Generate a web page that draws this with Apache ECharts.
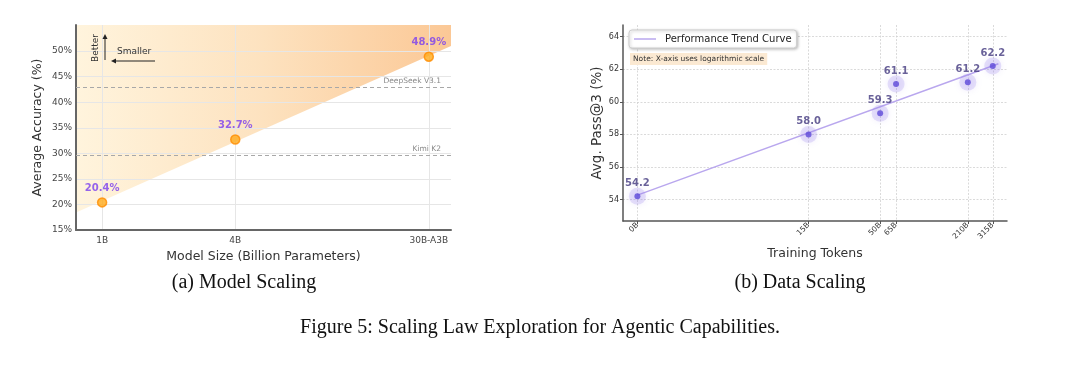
<!DOCTYPE html>
<html>
<head>
<meta charset="utf-8">
<script src="https://cdn.jsdelivr.net/npm/echarts@6/dist/echarts.min.js"></script>
<style>
html,body{margin:0;padding:0;background:#fff;}
#c{width:1080px;height:370px;}
</style>
</head>
<body>
<div id="c"></div>
<script>
// ---- Left panel: model scaling ----
var modelSizes = [1, 4, 30];               // billions (log-positioned)
var modelLabels = ['1B', '4B', '30B-A3B'];
var modelAccuracy = [20.4, 32.7, 48.9];
var accTicks = [15, 20, 25, 30, 35, 40, 45, 50];
var baselineNames = ['DeepSeek V3.1', 'Kimi K2'];
var baselineValues = [43.0, 29.7];
var frontierX = [0.762, 37.8];             // band edge
var frontierY = [18.4, 51.0];

// ---- Right panel: data scaling ----
var tokenLabels = ['0B', '15B', '50B', '65B', '210B', '315B'];
var tokens = [0, 15, 50, 65, 210, 315];    // billions
var passAt3 = [54.2, 58.0, 59.3, 61.1, 61.2, 62.2];
var passTicks = [54, 56, 58, 60, 62, 64];
var trendTokens = [0, 345];
var trendValues = [54.27, 62.34];

var FONT = 'DejaVu Sans';
var chart = echarts.init(document.getElementById('c'), null, {renderer: 'canvas'});

function tokenPos(t) { return t + 1; } // log(x+1) axis
var tokTickVals = tokens.map(tokenPos);

var option = {
  animation: false,
  backgroundColor: '#fff',
  textStyle: {fontFamily: FONT},
  grid: [
    {left: 76, top: 25, width: 375, height: 205, containLabel: false},
    {left: 623, top: 25, width: 384, height: 196, containLabel: false}
  ],
  legend: {
    data: ['Performance Trend Curve'],
    left: 629, top: 30,
    icon: 'rect', itemWidth: 22, itemHeight: 1.5, itemGap: 6,
    padding: [4, 5, 4, 5],
    backgroundColor: '#fff',
    borderColor: '#cfcfcf', borderWidth: 1, borderRadius: 3,
    shadowBlur: 3, shadowColor: 'rgba(0,0,0,0.25)', shadowOffsetX: 1, shadowOffsetY: 1,
    textStyle: {fontFamily: FONT, fontSize: 10, color: '#222', padding: [0, 0, 0, 4]}
  },
  xAxis: [
    {
      gridIndex: 0, type: 'log', logBase: 10, min: frontierX[0], max: frontierX[1],
      name: 'Model Size (Billion Parameters)', nameLocation: 'middle', nameGap: 18,
      nameTextStyle: {fontFamily: FONT, fontSize: 12.5, color: '#333'},
      axisLine: {show: true, lineStyle: {color: '#666', width: 2}},
      axisTick: {show: false, customValues: modelSizes},
      axisLabel: {customValues: modelSizes, fontSize: 9, color: '#444', margin: 6,
        formatter: function (v) { var i = modelSizes.findIndex(function (m) { return Math.abs(m - v) < 1e-6; }); return i >= 0 ? modelLabels[i] : ''; }},
      splitLine: {show: true, lineStyle: {color: '#e6e6e6', width: 1}},
      minorSplitLine: {show: false}
    },
    {
      gridIndex: 1, type: 'log', logBase: 10, min: 0.792, max: 398,
      name: 'Training Tokens', nameLocation: 'middle', nameGap: 24,
      nameTextStyle: {fontFamily: FONT, fontSize: 12.5, color: '#333'},
      axisLine: {show: true, lineStyle: {color: '#555', width: 1.5}},
      axisTick: {show: true, customValues: tokTickVals, length: 3, lineStyle: {color: '#555'}},
      axisLabel: {customValues: tokTickVals, rotate: 45, fontSize: 7.5, color: '#333', margin: 3,
        formatter: function (v) { var i = tokTickVals.findIndex(function (m) { return Math.abs(m - v) < 1e-6; }); return i >= 0 ? tokenLabels[i] : ''; }},
      splitLine: {show: true, lineStyle: {color: '#d0d0d0', width: 0.8, type: [2, 1.5]}}
    }
  ],
  yAxis: [
    {
      gridIndex: 0, type: 'value', min: 15, max: 55.1, interval: 5,
      name: 'Average Accuracy (%)', nameLocation: 'middle', nameGap: 32,
      nameTextStyle: {fontFamily: FONT, fontSize: 12.5, color: '#333'},
      axisLine: {show: true, lineStyle: {color: '#666', width: 2}},
      axisTick: {show: false, customValues: accTicks},
      axisLabel: {customValues: accTicks, fontSize: 9, color: '#444', margin: 4, formatter: function (v) { return v + '%'; }},
      splitLine: {show: true, lineStyle: {color: '#e6e6e6', width: 1}}
    },
    {
      gridIndex: 1, type: 'value', min: 52.68, max: 64.72,
      name: 'Avg. Pass@3 (%)', nameLocation: 'middle', nameGap: 16,
      nameTextStyle: {fontFamily: FONT, fontSize: 13.5, color: '#333'},
      axisLine: {show: true, lineStyle: {color: '#555', width: 1.5}},
      axisTick: {show: true, customValues: passTicks, length: 3, lineStyle: {color: '#555'}},
      axisLabel: {customValues: passTicks, fontSize: 8, color: '#333', margin: 4},
      splitLine: {show: true, lineStyle: {color: '#d0d0d0', width: 0.8, type: [2, 1.5]}}
    }
  ],
  series: [
    {
      name: 'band', type: 'line', xAxisIndex: 0, yAxisIndex: 0, z: -1,
      symbol: 'none', silent: true,
      data: frontierX.map(function (x, i) { return [x, frontierY[i]]; }),
      lineStyle: {width: 0, opacity: 0},
      areaStyle: {
        origin: 'end', opacity: 1,
        color: new echarts.graphic.LinearGradient(0, 0, 1, 0, [
          {offset: 0, color: '#fff4dd'},
          {offset: 0.5, color: '#fde2bf'},
          {offset: 1, color: '#fbc896'}
        ])
      },
      markLine: {
        silent: true, symbol: 'none',
        lineStyle: {color: '#a8a8a8', type: [4, 3], width: 1.2},
        label: {position: 'insideEndTop', color: '#888', fontSize: 7.5, fontFamily: FONT, distance: [10, 2],
          formatter: function (p) { return p.name; }},
        data: baselineValues.map(function (v, i) { return {name: baselineNames[i], yAxis: v}; })
      }
    },
    {
      name: 'models', type: 'scatter', xAxisIndex: 0, yAxisIndex: 0, z: 5,
      symbolSize: 9,
      itemStyle: {color: '#ffaa1a', borderColor: '#ff8c00', borderWidth: 1.5},
      label: {show: true, position: 'top', distance: 4, color: '#7b3fef', fontWeight: 'bold', fontSize: 10, fontFamily: FONT,
        formatter: function (p) { return p.value[1].toFixed(1) + '%'; }},
      data: modelSizes.map(function (x, i) { return [x, modelAccuracy[i]]; })
    },
    {
      name: 'Performance Trend Curve', type: 'line', xAxisIndex: 1, yAxisIndex: 1, z: 3,
      symbol: 'none', color: '#b9a7ee',
      lineStyle: {color: '#b9a7ee', width: 1.5},
      data: trendTokens.map(function (t, i) { return [tokenPos(t), trendValues[i]]; })
    },
    {
      name: 'halo', type: 'scatter', xAxisIndex: 1, yAxisIndex: 1, z: 4, silent: true,
      symbolSize: 17,
      itemStyle: {color: 'rgba(150,130,235,0.28)', shadowBlur: 6, shadowColor: 'rgba(150,130,235,0.6)'},
      data: tokens.map(function (t, i) { return [tokenPos(t), passAt3[i]]; })
    },
    {
      name: 'points', type: 'scatter', xAxisIndex: 1, yAxisIndex: 1, z: 5,
      symbolSize: 6,
      itemStyle: {color: '#5d48d8'},
      label: {show: true, position: 'top', distance: 5, color: '#44397f', fontWeight: 'bold', fontSize: 10, fontFamily: FONT,
        formatter: function (p) { return p.value[1].toFixed(1); }},
      data: tokens.map(function (t, i) { return [tokenPos(t), passAt3[i]]; })
    }
  ],
  graphic: [
    // Better / Smaller annotation
    {type: 'text', x: 91, y: 62, rotation: Math.PI / 2, z: 10,
      style: {text: 'Better', fontFamily: FONT, fontSize: 9, fill: '#333', textVerticalAlign: 'top'}},
    {type: 'line', z: 10, shape: {x1: 105, y1: 60, x2: 105, y2: 37}, style: {stroke: '#222', lineWidth: 1}},
    {type: 'polygon', z: 10, shape: {points: [[105, 34], [102.5, 39], [107.5, 39]]}, style: {fill: '#222'}},
    {type: 'text', x: 117, y: 47, z: 10,
      style: {text: 'Smaller', fontFamily: FONT, fontSize: 9, fill: '#333'}},
    {type: 'line', z: 10, shape: {x1: 155, y1: 61, x2: 115, y2: 61}, style: {stroke: '#222', lineWidth: 1}},
    {type: 'polygon', z: 10, shape: {points: [[111, 61], [116, 58.5], [116, 63.5]]}, style: {fill: '#222'}},
    // Note box
    {type: 'text', x: 630, y: 53, z: 10,
      style: {text: 'Note: X-axis uses logarithmic scale', fontFamily: FONT, fontSize: 7.5, fill: '#333',
        backgroundColor: '#fbe9d2', padding: [2, 3, 2, 3]}},
    // Captions
    {type: 'text', x: 244, y: 283, z: 10,
      style: {text: '(a) Model Scaling', fontFamily: 'Liberation Serif', fontSize: 20, fill: '#111', textAlign: 'center', textVerticalAlign: 'middle'}},
    {type: 'text', x: 800, y: 283, z: 10,
      style: {text: '(b) Data Scaling', fontFamily: 'Liberation Serif', fontSize: 20, fill: '#111', textAlign: 'center', textVerticalAlign: 'middle'}},
    {type: 'text', x: 540, y: 328, z: 10,
      style: {text: 'Figure 5: Scaling Law Exploration for Agentic Capabilities.', fontFamily: 'Liberation Serif', fontSize: 20, fill: '#111', textAlign: 'center', textVerticalAlign: 'middle'}}
  ]
};
chart.setOption(option);
</script>
</body>
</html>
